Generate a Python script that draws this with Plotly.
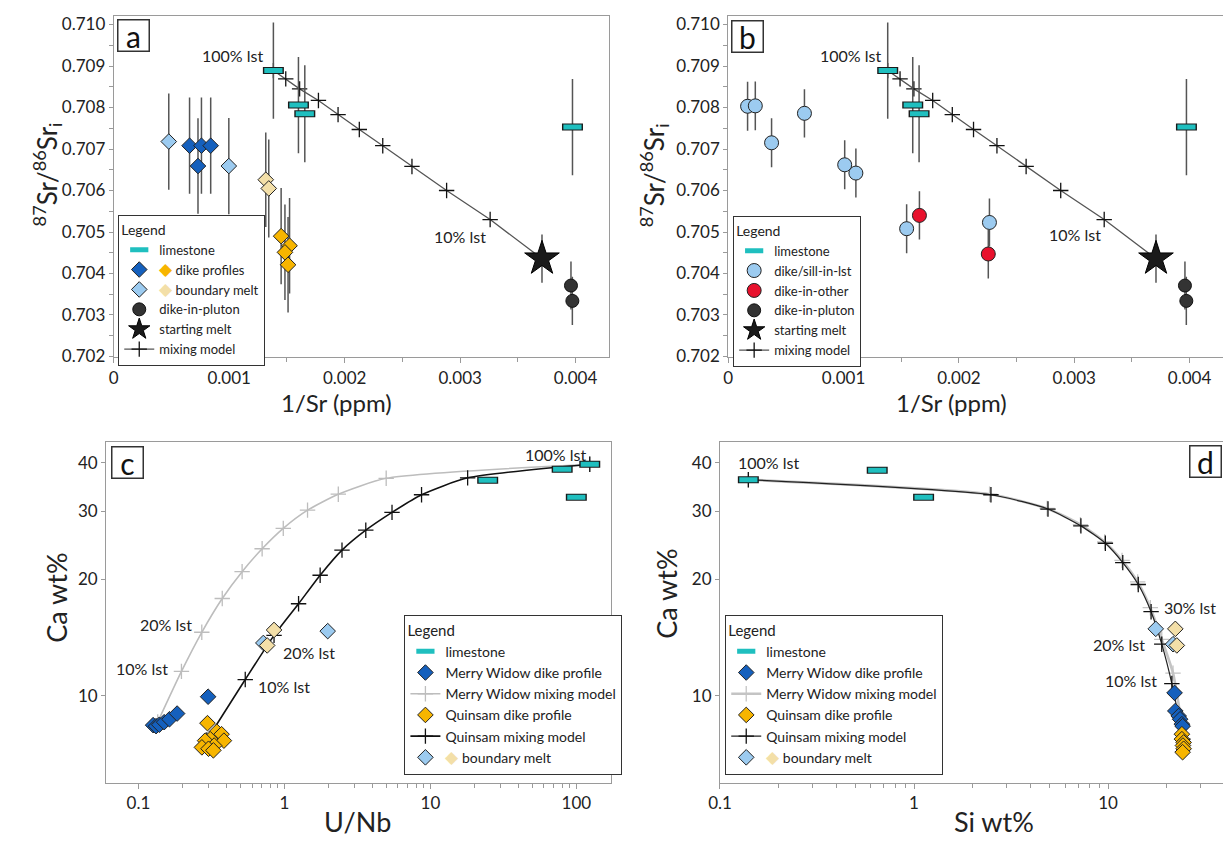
import math
import plotly.graph_objects as go

# ---------------- data ----------------
# Panels a & b : 87Sr/86Sr vs 1/Sr
lst_x_ab = [0.001383, 0.00160, 0.001655, 0.003973]
lst_y_ab = [0.70889, 0.70806, 0.70785, 0.70753]
lst_err_ab = [0.00116, 0.00116, 0.00117, 0.00116]

mix_x_ab = [0.001383, 0.00149, 0.00161, 0.001773, 0.001943, 0.002127,
            0.00233, 0.002583, 0.002883, 0.00326, 0.003707]
mix_y_ab = [0.70889, 0.70869, 0.70845, 0.70817, 0.70783, 0.70747,
            0.70708, 0.70658, 0.70600, 0.70530, 0.70436]

pluton_x_ab = [0.003960, 0.003972]
pluton_y_ab = [0.70371, 0.70334]
pluton_err_ab = [0.00058, 0.00058]

star_x_ab = [0.003709]
star_y_ab = [0.70436]
star_err_ab = [0.00058]

# panel a
dike_mw_x_a = [0.000657, 0.000760, 0.000840, 0.000730]
dike_mw_y_a = [0.70708, 0.70708, 0.70708, 0.70659]
dike_mw_err_a = [0.00116, 0.00116, 0.00116, 0.00115]
dike_q_x_a = [0.001450, 0.001523, 0.001483, 0.001510]
dike_q_y_a = [0.70490, 0.70467, 0.70451, 0.70421]
dike_q_err_a = [0.00116, 0.00115, 0.00115, 0.00115]
bm_lb_x_a = [0.000477, 0.000997]
bm_lb_y_a = [0.70718, 0.70659]
bm_lb_err_a = [0.00116, 0.00116]
bm_wh_x_a = [0.001317, 0.001343]
bm_wh_y_a = [0.70626, 0.70605]
bm_wh_err_a = [0.00114, 0.00118]

# panel b
sill_x_b = [0.000168, 0.000235, 0.000661, 0.000376, 0.001010, 0.001107, 0.001547, 0.002265]
sill_y_b = [0.70803, 0.70804, 0.70786, 0.70715, 0.70662, 0.70642, 0.70508, 0.70523]
sill_err_b = [0.00059, 0.00059, 0.00058, 0.00059, 0.00059, 0.00059, 0.00059, 0.00058]
other_x_b = [0.001658, 0.002255]
other_y_b = [0.70540, 0.70447]
other_err_b = [0.00058, 0.00059]

# Panel c : Ca wt% vs U/Nb
lst_x_c = [123.6, 80.0, 24.7, 100.0]
lst_y_c = [39.7, 38.5, 36.1, 32.6]
mw_x_c = [0.126, 0.132, 0.139, 0.150, 0.163, 0.184, 0.300]
mw_y_c = [8.40, 8.35, 8.42, 8.55, 8.70, 9.00, 9.95]
q_x_c = [0.297, 0.344, 0.371, 0.385, 0.310, 0.286, 0.330, 0.272, 0.302, 0.326]
q_y_c = [8.50, 8.08, 7.96, 7.66, 7.73, 7.66, 7.44, 7.36, 7.30, 7.23]
mwmix_x_c = [0.1355, 0.197, 0.2716, 0.375, 0.513, 0.7035, 0.982, 1.44, 2.34, 4.98, 123.6]
mwmix_y_c = [8.56, 11.57, 14.6, 17.85, 20.94, 24.0, 27.1, 30.2, 33.2, 36.5, 39.7]
qmix_x_c = [0.294, 0.539, 0.849, 1.25, 1.757, 2.48, 3.61, 5.46, 8.7, 18.0, 123.6]
qmix_y_c = [7.69, 11.02, 14.33, 17.3, 20.5, 23.8, 26.8, 29.8, 33.1, 36.6, 39.7]
bm_lb_x_c = [1.98, 0.717]
bm_lb_y_c = [14.7, 13.7]
bm_wh_x_c = [0.849, 0.762]
bm_wh_y_c = [14.8, 13.5]

# Panel d : Ca wt% vs Si wt%
lst_x_d = [0.14, 0.646, 1.12]
lst_y_d = [36.2, 38.3, 32.6]
qmix_x_d = [0.14, 2.49, 4.9, 7.24, 9.68, 11.9, 14.3, 16.65, 18.9, 21.3, 24.3]
qmix_y_d = [36.2, 33.1, 30.4, 27.5, 24.8, 22.1, 19.4, 16.5, 13.6, 10.76, 7.73]
mwmix_x_d = [0.14, 2.45, 4.85, 7.2, 9.6, 11.8, 14.2, 16.5, 18.9, 21.6, 23.9]
mwmix_y_d = [36.2, 33.2, 30.5, 27.7, 25.0, 22.4, 19.7, 16.9, 14.0, 11.45, 8.5]
mw_x_d = [22.0, 22.2, 23.1, 23.5, 24.0, 24.2]
mw_y_d = [10.18, 9.14, 8.87, 8.70, 8.45, 8.35]
q_x_d = [24.0, 24.0, 24.5, 24.3, 24.5, 24.2]
q_y_d = [7.96, 7.73, 7.58, 7.44, 7.30, 7.15]
bm_lb_x_d = [17.6, 21.6]
bm_lb_y_d = [14.9, 13.6]
bm_wh_x_d = [22.2, 22.6]
bm_wh_y_d = [14.9, 13.5]

# tick labels
sr_x_ticks = [0, 0.001, 0.002, 0.003, 0.004]
sr_x_text = ["0", "0.001", "0.002", "0.003", "0.004"]
sr_y_ticks = [0.702, 0.703, 0.704, 0.705, 0.706, 0.707, 0.708, 0.709, 0.710]
sr_y_text = ["0.702", "0.703", "0.704", "0.705", "0.706", "0.707", "0.708", "0.709", "0.710"]
log_x_ticks = [0.1, 1, 10, 100]
log_x_text = ["0.1", "1", "10", "100"]
ca_ticks = [10, 20, 30, 40]
ca_text = ["10", "20", "30", "40"]

# ---------------- styling ----------------
W, H = 1223, 846
FONT = "Lato"
TXT = "#222222"
C_LST = "#1FBFBF"
C_MW = "#1560BD"
C_Q = "#F7B500"
C_LB = "#9CCBF0"
C_WH = "#F3DFA8"
C_PL = "#333333"
C_RED = "#E8112D"
FRAME = "#9a9a9a"


def px(p):
    return p / W


def py(p):
    return 1 - p / H


def errs(arr):
    return dict(type="data", array=arr, visible=True, color="#555555", thickness=1.5, width=0)


def two(color, text):
    return '<span style="color:%s;font-size:17px">◆</span> %s' % (color, text)


fig = go.Figure()


def add_limestone(x, y, xa, ya, leg, err=None, rank=1):
    fig.add_trace(go.Scatter(x=x, y=y, xaxis=xa, yaxis=ya, mode="markers",
                             marker=dict(symbol="line-ew", size=15, line=dict(color="#1a1a1a", width=7)),
                             error_y=errs(err) if err else None, showlegend=False, hoverinfo="skip"))
    fig.add_trace(go.Scatter(x=x, y=y, xaxis=xa, yaxis=ya, mode="markers", name="limestone",
                             legend=leg, legendrank=rank,
                             marker=dict(symbol="line-ew", size=13, color=C_LST, line=dict(color=C_LST, width=5))))


def diamond(x, y, xa, ya, color, name=None, leg=None, err=None, rank=None, size=12):
    fig.add_trace(go.Scatter(x=x, y=y, xaxis=xa, yaxis=ya, mode="markers",
                             name=name or "", showlegend=name is not None, legend=leg,
                             legendrank=rank if rank else 1000,
                             error_y=errs(err) if err else None,
                             marker=dict(symbol="diamond", size=size, color=color,
                                         line=dict(color="#222222", width=1))))


def mixing(x, y, xa, ya, name, leg, rank, lcolor="#555555", mcolor="#111111", lw=1.3, shape="linear"):
    fig.add_trace(go.Scatter(x=x, y=y, xaxis=xa, yaxis=ya, mode="lines+markers", name=name,
                             legend=leg, legendrank=rank,
                             line=dict(color=lcolor, width=lw, shape=shape, smoothing=0.6),
                             marker=dict(symbol="cross-thin", size=11, color=mcolor,
                                         line=dict(color=mcolor, width=1.3))))


# ---- panel a ----
mixing(mix_x_ab, mix_y_ab, "x", "y", "mixing model", "legend", 6)
add_limestone(lst_x_ab, lst_y_ab, "x", "y", "legend", lst_err_ab, 1)
diamond(dike_mw_x_a, dike_mw_y_a, "x", "y", C_MW,
        name=two(C_Q, "dike profiles"), leg="legend", err=dike_mw_err_a, rank=2)
diamond(dike_q_x_a, dike_q_y_a, "x", "y", C_Q, err=dike_q_err_a)
diamond(bm_lb_x_a, bm_lb_y_a, "x", "y", C_LB,
        name=two(C_WH, "boundary melt"), leg="legend", err=bm_lb_err_a, rank=3)
diamond(bm_wh_x_a, bm_wh_y_a, "x", "y", C_WH, err=bm_wh_err_a)
fig.add_trace(go.Scatter(x=pluton_x_ab, y=pluton_y_ab, xaxis="x", yaxis="y", mode="markers",
                         name="dike-in-pluton", legend="legend", legendrank=4, error_y=errs(pluton_err_ab),
                         marker=dict(symbol="circle", size=13, color=C_PL, line=dict(color="#111", width=1))))
fig.add_trace(go.Scatter(x=star_x_ab, y=star_y_ab, xaxis="x", yaxis="y", mode="markers",
                         name="starting melt", legend="legend", legendrank=5, error_y=errs(star_err_ab),
                         marker=dict(symbol="star", size=26, color="#1a1a1a", line=dict(color="#000", width=1))))

# ---- panel b ----
mixing(mix_x_ab, mix_y_ab, "x2", "y2", "mixing model", "legend2", 6)
add_limestone(lst_x_ab, lst_y_ab, "x2", "y2", "legend2", lst_err_ab, 1)
fig.add_trace(go.Scatter(x=sill_x_b, y=sill_y_b, xaxis="x2", yaxis="y2", mode="markers",
                         name="dike/sill-in-lst", legend="legend2", legendrank=2, error_y=errs(sill_err_b),
                         marker=dict(symbol="circle", size=14, color=C_LB, line=dict(color="#222", width=1))))
fig.add_trace(go.Scatter(x=other_x_b, y=other_y_b, xaxis="x2", yaxis="y2", mode="markers",
                         name="dike-in-other", legend="legend2", legendrank=3, error_y=errs(other_err_b),
                         marker=dict(symbol="circle", size=14, color=C_RED, line=dict(color="#222", width=1))))
fig.add_trace(go.Scatter(x=pluton_x_ab, y=pluton_y_ab, xaxis="x2", yaxis="y2", mode="markers",
                         name="dike-in-pluton", legend="legend2", legendrank=4, error_y=errs(pluton_err_ab),
                         marker=dict(symbol="circle", size=13, color=C_PL, line=dict(color="#111", width=1))))
fig.add_trace(go.Scatter(x=star_x_ab, y=star_y_ab, xaxis="x2", yaxis="y2", mode="markers",
                         name="starting melt", legend="legend2", legendrank=5, error_y=errs(star_err_ab),
                         marker=dict(symbol="star", size=26, color="#1a1a1a", line=dict(color="#000", width=1))))

# ---- panel c ----
mixing(mwmix_x_c, mwmix_y_c, "x3", "y3", "Merry Widow mixing model", "legend3", 3,
       lcolor="#BDBDBD", mcolor="#BDBDBD", lw=1.6, shape="spline")
mixing(qmix_x_c, qmix_y_c, "x3", "y3", "Quinsam mixing model", "legend3", 5,
       lcolor="#111111", mcolor="#111111", lw=1.6, shape="spline")
add_limestone(lst_x_c, lst_y_c, "x3", "y3", "legend3", None, 1)
diamond(mw_x_c, mw_y_c, "x3", "y3", C_MW, name="Merry Widow dike profile", leg="legend3", rank=2)
diamond(q_x_c, q_y_c, "x3", "y3", C_Q, name="Quinsam dike profile", leg="legend3", rank=4)
diamond(bm_lb_x_c, bm_lb_y_c, "x3", "y3", C_LB,
        name=two(C_WH, "boundary melt"), leg="legend3", rank=6)
diamond(bm_wh_x_c, bm_wh_y_c, "x3", "y3", C_WH)

# ---- panel d ----
mixing(mwmix_x_d, mwmix_y_d, "x4", "y4", "Merry Widow mixing model", "legend4", 3,
       lcolor="#C4C4C4", mcolor="#C4C4C4", lw=2.6, shape="spline")
mixing(qmix_x_d, qmix_y_d, "x4", "y4", "Quinsam mixing model", "legend4", 5,
       lcolor="#222222", mcolor="#111111", lw=1.2, shape="spline")
add_limestone(lst_x_d, lst_y_d, "x4", "y4", "legend4", None, 1)
diamond(mw_x_d, mw_y_d, "x4", "y4", C_MW, name="Merry Widow dike profile", leg="legend4", rank=2)
diamond(q_x_d, q_y_d, "x4", "y4", C_Q, name="Quinsam dike profile", leg="legend4", rank=4)
diamond(bm_lb_x_d, bm_lb_y_d, "x4", "y4", C_LB,
        name=two(C_WH, "boundary melt"), leg="legend4", rank=6)
diamond(bm_wh_x_d, bm_wh_y_d, "x4", "y4", C_WH)


# ---------------- axes ----------------
def ax(domain, rng, mirror=True, **kw):
    d = dict(domain=domain, range=rng, showline=True, linecolor=FRAME, linewidth=1, mirror=mirror,
             ticks="outside", ticklen=5, tickcolor=FRAME, tickwidth=1, showgrid=False, zeroline=False,
             tickfont=dict(family=FONT, size=17, color=TXT))
    d.update(kw)
    return d


sr_x_minor = dict(tickmode="array", tickvals=[0.0005, 0.0015, 0.0025, 0.0035],
                  ticks="outside", ticklen=4, tickcolor=FRAME)
sr_y_minor = dict(tickmode="array", tickvals=[0.7025, 0.7035, 0.7045, 0.7055, 0.7065, 0.7075, 0.7085, 0.7095],
                  ticks="outside", ticklen=4, tickcolor=FRAME)
log_minor_vals = [v * m for m in (0.1, 1, 10, 100) for v in range(2, 10)]
log_minor = dict(tickmode="array", tickvals=log_minor_vals, ticks="outside", ticklen=4, tickcolor=FRAME)

ydom_top = [py(360), py(14)]
ydom_bot = [py(791), py(446)]
sr_xr = [0, 0.00429]
sr_yr = [0.70198, 0.71021]
ca_r = [0.7755, 1.6556]

fig.update_layout(
    xaxis=ax([px(102.7), px(603)], sr_xr, tickmode="array", tickvals=sr_x_ticks, ticktext=sr_x_text,
             minor=sr_x_minor, anchor="y"),
    yaxis=ax(ydom_top, sr_yr, tickmode="array", tickvals=sr_y_ticks, ticktext=sr_y_text,
             minor=sr_y_minor, anchor="x", ticklen=4),
    xaxis2=ax([px(723.3), 1.0], sr_xr, tickmode="array", tickvals=sr_x_ticks, ticktext=sr_x_text,
              minor=sr_x_minor, anchor="y2"),
    yaxis2=ax(ydom_top, sr_yr, mirror=False, tickmode="array", tickvals=sr_y_ticks, ticktext=sr_y_text,
              minor=sr_y_minor, anchor="x2", ticklen=4),
    xaxis3=ax([px(95), px(605)], [-1.222, 2.238], type="log", tickmode="array", tickvals=log_x_ticks,
              ticktext=log_x_text, minor=log_minor, anchor="y3"),
    yaxis3=ax(ydom_bot, ca_r, type="log", tickmode="array", tickvals=ca_ticks, ticktext=ca_text,
              anchor="x3", ticklen=4),
    xaxis4=ax([px(715), 1.0], [-1.0, 1.592], type="log", tickmode="array", tickvals=log_x_ticks,
              ticktext=log_x_text, minor=log_minor, anchor="y4"),
    yaxis4=ax(ydom_bot, ca_r, mirror=False, type="log", tickmode="array", tickvals=ca_ticks, ticktext=ca_text,
              anchor="x4", ticklen=4),
)


# ---------------- legends ----------------
def leg(x, y, size, tsize):
    return dict(x=x, y=y, xanchor="left", yanchor="top", bgcolor="white", bordercolor="#333333",
                borderwidth=1.3, font=dict(family=FONT, size=size, color=TXT), tracegroupgap=0,
                title=dict(text="Legend", font=dict(family=FONT, size=tsize, color=TXT)),
                itemsizing="trace")


fig.update_layout(
    legend=leg(px(107), py(216), 13, 14),
    legend2=leg(px(728), py(217), 13, 14),
    legend3=leg(px(396), py(621), 14, 15),
    legend4=leg(px(720), py(621), 14, 15),
)

# ---------------- annotations ----------------
ann = []


def text_data(t, x, y, xa, ya, log=False, size=16):
    xv = math.log10(x) if log else x
    yv = math.log10(y) if log else y
    ann.append(dict(text=t, x=xv, y=yv, xref=xa, yref=ya, showarrow=False,
                    xanchor="center", yanchor="middle",
                    font=dict(family=FONT, size=size, color=TXT)))


text_data("100% lst", 0.001033, 0.70926, "x", "y")
text_data("10% lst", 0.0030, 0.70490, "x", "y")
text_data("100% lst", 0.001057, 0.70926, "x2", "y2")
text_data("10% lst", 0.003003, 0.70494, "x2", "y2")
text_data("100% lst", 71.6, 42.0, "x3", "y3", log=True)
text_data("20% lst", 0.1555, 15.3, "x3", "y3", log=True)
text_data("10% lst", 0.106, 11.8, "x3", "y3", log=True)
text_data("20% lst", 1.466, 12.95, "x3", "y3", log=True)
text_data("10% lst", 0.988, 10.56, "x3", "y3", log=True)
text_data("100% lst", 0.1776, 40.2, "x4", "y4", log=True)
text_data("30% lst", 26.4, 16.9, "x4", "y4", log=True)
text_data("20% lst", 11.37, 13.6, "x4", "y4", log=True)
text_data("10% lst", 13.06, 10.98, "x4", "y4", log=True)


def paper_text(t, x, y, size, angle=0):
    ann.append(dict(text=t, x=px(x), y=py(y), xref="paper", yref="paper", showarrow=False,
                    xanchor="center", yanchor="middle",
                    textangle=angle, font=dict(family=FONT, size=size, color=TXT)))


sr_title = "<sup>87</sup>Sr/<sup>86</sup>Sr<sub>i</sub>"
paper_text("1/Sr (ppm)", 328, 406, 24)
paper_text(sr_title, 35, 175, 26, -90)
paper_text("1/Sr (ppm)", 949, 406, 24)
paper_text(sr_title, 648, 176, 26, -90)
paper_text("U/Nb", 349, 830, 27)
paper_text("Ca wt%", 45, 604, 27, -90)
paper_text("Si wt%", 992, 830, 27)
paper_text("Ca wt%", 661, 600, 27, -90)


def panel_label(t, x, y):
    ann.append(dict(text=t, x=px(x), y=py(y), xref="paper", yref="paper", showarrow=False,
                    xanchor="center", yanchor="middle",
                    width=28, height=28, borderpad=1, bordercolor="#333333", borderwidth=1.5,
                    bgcolor="white", align="center", valign="middle",
                    font=dict(family=FONT, size=30, color="#111111")))


panel_label("a", 123, 34)
panel_label("b", 743, 35)
panel_label("c", 116.5, 467)
panel_label("d", 1205, 466)

fig.update_layout(
    annotations=ann,
    width=W, height=H, autosize=False,
    margin=dict(l=0, r=0, t=0, b=0),
    paper_bgcolor="white", plot_bgcolor="white",
    font=dict(family=FONT, color=TXT),
    hovermode=False,
)

fig.write_html("out.html", config={"displayModeBar": False},
               post_script="document.body.style.margin='0px';document.body.style.overflow='hidden';")
